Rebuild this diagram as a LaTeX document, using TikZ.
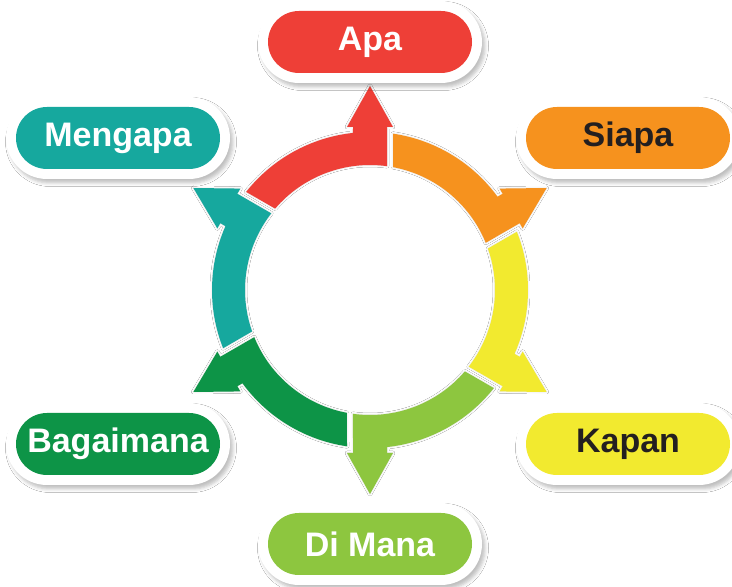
\documentclass[tikz,border=0pt]{standalone}
\usepackage{fontspec}
\setmainfont{Liberation Sans}
\usetikzlibrary{shadows.blur}
\definecolor{cRed}{HTML}{EE3F37}
\definecolor{cOrange}{HTML}{F6921E}
\definecolor{cYellow}{HTML}{F2EA2F}
\definecolor{cLGreen}{HTML}{8DC63F}
\definecolor{cGreen}{HTML}{0D9447}
\definecolor{cTeal}{HTML}{16A89E}
\definecolor{cDark}{HTML}{231F20}
\begin{document}
\begin{tikzpicture}[x=1pt,y=1pt,
  rim/.style={fill=white, minimum width=224pt, minimum height=82pt, rounded corners=41pt, inner sep=0pt,
    blur shadow={shadow xshift=3pt, shadow yshift=-4pt, shadow blur radius=3.5pt, shadow opacity=25}},
  pill/.style={fill=#1, minimum width=204pt, minimum height=62pt, rounded corners=31pt, inner sep=0pt,
    font=\fontsize{34}{36}\selectfont\bfseries},
  segment/.style={fill=#1, blur shadow={shadow xshift=0pt, shadow yshift=0pt, shadow blur radius=2pt, shadow opacity=12}}
]
\useasboundingbox (0,0) rectangle (732,587);
\fill[white] (0,0) rectangle (732,587);

% ring of arrows
\foreach \c [count=\k from 0] in {cRed,cOrange,cYellow,cLGreen,cGreen,cTeal} {
  \begin{scope}[shift={(370,297)}, rotate={-60*\k}]
    \path[segment=\c] (141.63:158) arc[start angle=141.63, end angle=96.18, radius=158pt]
      -- (-17,163) -- (-23,163) -- (0,204) -- (23,163) -- (17,163)
      -- (82.18:125) arc[start angle=82.18, end angle=139.37, radius=125pt] -- cycle;
  \end{scope}
}

% labels
\node[rim] (rApa) at (370,545) {};
\node[pill=cRed, text=white] (apa) at (370,545) {Apa};
\node[rim] (rMengapa) at (118,449) {};
\node[pill=cTeal, text=white] (mengapa) at (118,449) {Mengapa};
\node[rim] (rSiapa) at (628,449) {};
\node[pill=cOrange, text=cDark] (siapa) at (628,449) {Siapa};
\node[rim] (rBagaimana) at (118,143) {};
\node[pill=cGreen, text=white] (bagaimana) at (118,143) {Bagaimana};
\node[rim] (rKapan) at (628,143) {};
\node[pill=cYellow, text=cDark] (kapan) at (628,143) {Kapan};
\node[rim] (rDiMana) at (370,43) {};
\node[pill=cLGreen, text=white] (dimana) at (370,43) {Di Mana};
\end{tikzpicture}
\end{document}
